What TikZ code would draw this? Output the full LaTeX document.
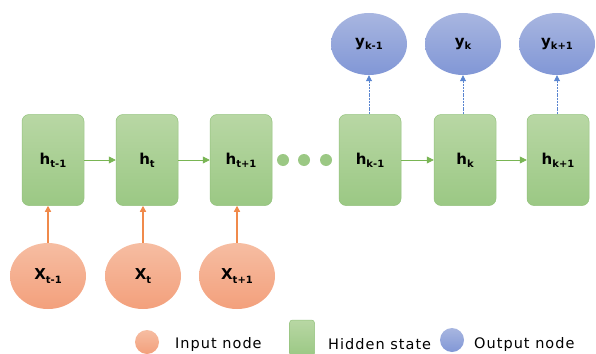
\documentclass[tikz,border=0pt]{standalone}
\usepackage{fontspec}
\setmainfont{DejaVu Sans}
\newfontfamily\legfont[LetterSpace=7]{DejaVu Sans}
\usetikzlibrary{arrows.meta,shapes.geometric}
\definecolor{hidtop}{HTML}{B8D7A4}
\definecolor{hidbot}{HTML}{9BC884}
\definecolor{hidline}{HTML}{93C27C}
\definecolor{intop}{HTML}{F6BDA2}
\definecolor{inbot}{HTML}{F3A07C}
\definecolor{outtop}{HTML}{A8B6E0}
\definecolor{outbot}{HTML}{8197D6}
\definecolor{inarrow}{HTML}{F08A4B}
\definecolor{outarrow}{HTML}{5A85D0}
\definecolor{hidarrow}{HTML}{79B554}
\newcommand{\lab}[2]{\textbf{#1\raisebox{-0.4ex}{\fontsize{10}{12}\selectfont #2}}}
\tikzset{
  hidden/.style={draw=hidline, line width=0.5pt, rounded corners=7pt,
    top color=hidtop, bottom color=hidbot, minimum width=62pt, minimum height=91pt,
    inner sep=0pt, font=\fontsize{15}{17}\selectfont},
  innode/.style={ellipse, draw=none, top color=intop, bottom color=inbot,
    minimum width=76pt, minimum height=66pt, inner sep=0pt, font=\fontsize{15}{17}\selectfont},
  outnode/.style={ellipse, draw=none, top color=outtop, bottom color=outbot,
    minimum width=76pt, minimum height=62pt, inner sep=0pt, font=\fontsize{15}{17}\selectfont},
  dot/.style={circle, fill=hidbot, minimum size=12pt, inner sep=0pt},
  inarr/.style={draw=inarrow, line width=1.2pt, -{Triangle[width=6pt,length=6pt]}},
  outarr/.style={draw=outarrow, line width=0.8pt, dash pattern=on 2pt off 0.8pt, -{Triangle[width=6pt,length=6pt]}},
  hidarr/.style={draw=hidarrow, line width=0.6pt, -{Triangle[width=7pt,length=7pt]}},
  legtext/.style={anchor=west, font=\legfont\fontsize{14.5}{17}\selectfont, inner sep=0pt}
}
\begin{document}
\begin{tikzpicture}[x=1pt, y=-1pt]
\useasboundingbox (0,0) rectangle (596,353);
% hidden states
\node[hidden] (h1) at (53,160) {\lab{h}{t-1}};
\node[hidden] (h2) at (147,160) {\lab{h}{t}};
\node[hidden] (h3) at (241,160) {\lab{h}{t+1}};
\node[hidden] (h4) at (370,160) {\lab{h}{k-1}};
\node[hidden] (h5) at (465,160) {\lab{h}{k}};
\node[hidden] (h6) at (558,160) {\lab{h}{k+1}};
% ellipsis dots
\node[dot] (d1) at (283,160) {};
\node[dot] (d2) at (304,160) {};
\node[dot] (d3) at (326,160) {};
% inputs
\node[innode] (x1) at (48,276) {\lab{X}{t-1}};
\node[innode] (x2) at (143,276) {\lab{X}{t}};
\node[innode] (x3) at (237,276) {\lab{X}{t+1}};
% outputs
\node[outnode] (y1) at (369,44) {\lab{y}{k-1}};
\node[outnode] (y2) at (463,44) {\lab{y}{k}};
\node[outnode] (y3) at (557,44) {\lab{y}{k+1}};
% recurrent connections
\draw[hidarr] (h1) -- (h2);
\draw[hidarr] (h2) -- (h3);
\draw[hidarr] (h4) -- (h5);
\draw[hidarr] (h5) -- (h6);
% input connections
\draw[inarr] (x1.north) -- (x1.north |- h1.south);
\draw[inarr] (x2.north) -- (x2.north |- h2.south);
\draw[inarr] (x3.north) -- (x3.north |- h3.south);
% output connections
\draw[outarr] (y1.south |- h4.north) -- (y1.south);
\draw[outarr] (y2.south |- h5.north) -- (y2.south);
\draw[outarr] (y3.south |- h6.north) -- (y3.south);
% legend
\node[circle, top color=intop, bottom color=inbot, minimum size=24pt, inner sep=0pt] (li) at (147,342) {};
\node[legtext] (lit) at (175,344) {Input node};
\node[draw=hidline, line width=0.5pt, rounded corners=3pt, top color=hidtop, bottom color=hidbot,
  minimum width=25pt, minimum height=36pt, inner sep=0pt] (lh) at (302,338) {};
\node[legtext] (lht) at (328,344) {Hidden state};
\node[circle, top color=outtop, bottom color=outbot, minimum size=24pt, inner sep=0pt] (lo) at (452,340) {};
\node[legtext] (lot) at (474,344) {Output node};
\end{tikzpicture}
\end{document}
